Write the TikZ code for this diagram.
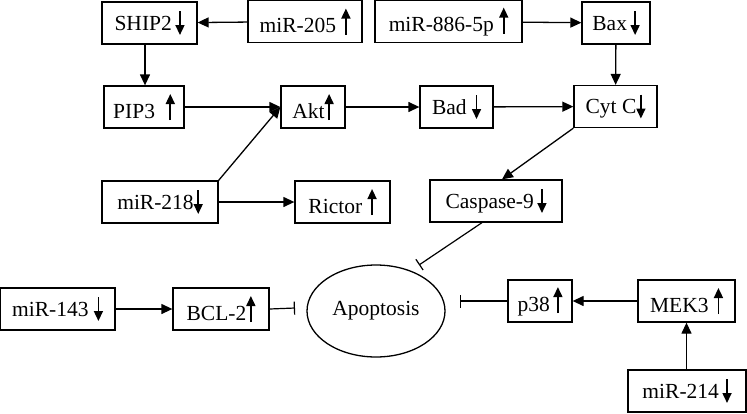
\documentclass[tikz,border=0pt]{standalone}
\usepackage{fontspec}
\setmainfont{Liberation Serif}
\usetikzlibrary{arrows.meta,shapes.geometric}
\newcommand\upar{\tikz[baseline=0pt]\draw[line width=1.6pt,-{Triangle[length=10pt,width=9pt]}] (0pt,-2pt)--(0pt,24pt);}
\newcommand\dnar{\tikz[baseline=0pt]\draw[line width=1.6pt,-{Triangle[length=10pt,width=9pt]}] (0pt,19pt)--(0pt,-5pt);}
\tikzset{
  box/.style={draw,line width=1.3pt,inner sep=0pt,minimum height=42pt,font=\fontsize{21.5}{24}\selectfont},
  act/.style={line width=1.3pt,-{Triangle[length=11pt,width=10pt]}},
  inh/.style={line width=1.2pt,-{Bar[width=13pt,line width=1.2pt]}}
}
\begin{document}
\begin{tikzpicture}[x=1pt,y=-1pt]
\useasboundingbox (0,0) rectangle (747,413);
\node[box,minimum width=95pt] (ship) at (149.5,23) {SHIP2\,\dnar};
\node[box,minimum width=114pt] (m205) at (305,21.5) {miR-205 \upar};
\node[box,minimum width=147pt] (m886) at (448.5,21.5) {miR-886-5p \upar};
\node[box,minimum width=68pt] (bax) at (616,23) {Bax\,\dnar};
\node[box,minimum width=80pt] (pip) at (144,107) {PIP3\enspace\upar};
\node[box,minimum width=64pt] (akt) at (313,107) {Akt\upar};
\node[box,minimum width=73pt] (bad) at (456.5,107) {Bad \dnar};
\node[box,minimum width=83pt] (cyt) at (615.5,106.5) {Cyt C\dnar};
\node[box,minimum width=116pt] (m218) at (160,202) {miR-218\dnar};
\node[box,minimum width=95pt] (ric) at (342.5,202) {Rictor \upar};
\node[box,minimum width=132pt] (casp) at (496,201) {Caspase-9\,\dnar};
\node[box,minimum width=115pt] (m143) at (57.5,309) {miR-143 \dnar};
\node[box,minimum width=96pt] (bcl) at (221,309) {BCL-2\upar};
\node[draw,line width=1.3pt,ellipse,minimum width=138pt,minimum height=92pt,inner sep=0pt,font=\fontsize{21.5}{24}\selectfont] (apo) at (376,311) {Apoptosis};
\node[box,minimum width=64pt] (p38) at (540,301) {p38\,\upar};
\node[box,minimum width=97pt] (mek) at (686.5,301) {MEK3 \upar};
\node[box,minimum width=118pt] (m214) at (687,391) {miR-214\,\dnar};
\coordinate (cb) at (419,265);
\coordinate (bb) at (295,308);
\coordinate (pb) at (460,301);
\draw[act] (m205) -- (ship);
\draw[act] (ship.south -| 145,0) -- (pip.north -| 145,0);
\draw[act] (pip) -- (akt);
\draw[act] (m218.north east) -- (akt.west);
\draw[act] (m218) -- (ric);
\draw[act] (akt) -- (bad);
\draw[act] (bad) -- (cyt);
\draw[act] (m886) -- (bax);
\draw[act] (bax) -- (cyt);
\draw[act] (cyt.south west) -- (casp.north -| 502,0);
\draw[inh] (casp.south -| 482,0) -- (cb);
\draw[act] (m143) -- (bcl);
\draw[inh] (bcl.east) -- (bb);
\draw[act] (mek) -- (p38);
\draw[inh] (p38.west) -- (pb);
\draw[act] (m214.north -| mek.south) -- (mek.south);
\end{tikzpicture}
\end{document}
